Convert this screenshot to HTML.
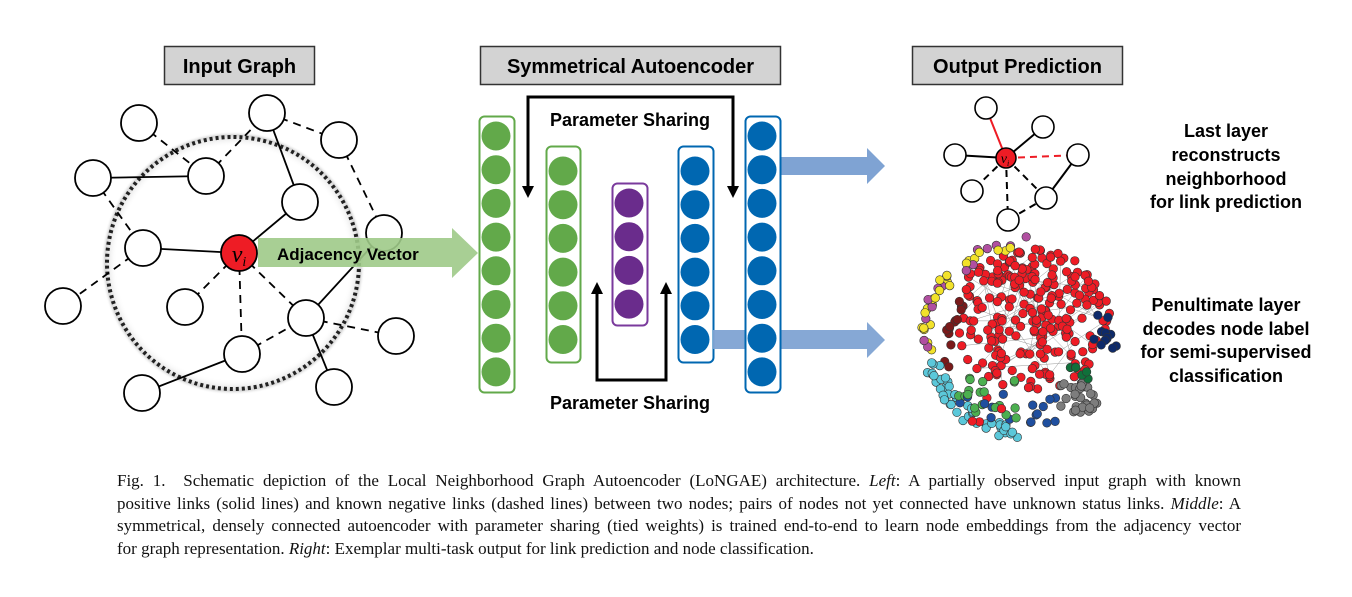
<!DOCTYPE html>
<html><head><meta charset="utf-8"><style>
body{margin:0;background:#fff;width:1352px;height:597px;overflow:hidden;position:relative;font-family:"Liberation Sans",sans-serif}
.cap{position:absolute;left:117px;top:470px;width:1124px;font-family:"Liberation Serif",serif;font-size:17px;line-height:22.7px;color:#111}
.cap div{text-align:justify;text-align-last:justify;white-space:nowrap;overflow:visible}
.cap div.l{text-align-last:left}
</style></head><body>
<svg id="s" width="1352" height="460" style="position:absolute;left:0;top:0" font-family="Liberation Sans, sans-serif">
<defs>
<radialGradient id="sh" cx="50%" cy="50%" r="50%"><stop offset="88%" stop-color="#fff" stop-opacity="0"/><stop offset="97%" stop-color="#bbb" stop-opacity="0.6"/><stop offset="100%" stop-color="#fff" stop-opacity="0"/></radialGradient>
</defs>
<rect x="164.5" y="46.5" width="150" height="38" fill="#d3d3d3" stroke="#333" stroke-width="1.5"/>
<text x="239.5" y="73" font-size="20" font-weight="bold" text-anchor="middle">Input Graph</text>
<rect x="480.5" y="46.5" width="300" height="38" fill="#d3d3d3" stroke="#333" stroke-width="1.5"/>
<text x="630.5" y="73" font-size="20" font-weight="bold" text-anchor="middle">Symmetrical Autoencoder</text>
<rect x="912.5" y="46.5" width="210" height="38" fill="#d3d3d3" stroke="#333" stroke-width="1.5"/>
<text x="1017.5" y="73" font-size="20" font-weight="bold" text-anchor="middle">Output Prediction</text>

<circle cx="233" cy="263" r="132" fill="url(#sh)"/>
<circle cx="233" cy="263" r="126" fill="none" stroke="#222" stroke-width="4" stroke-dasharray="3 3"/>
<g id="edges" stroke="#000" stroke-width="1.8"></g>
<g id="nodes" fill="#fff" stroke="#000" stroke-width="1.8"></g>
<polygon points="258,238 452,238 452,228 478,253 452,278 452,267 258,267" fill="#9fca88" opacity="0.9"/>
<circle cx="239" cy="253" r="18" fill="#ee1c25" stroke="#000" stroke-width="1.8"/>
<text x="239" y="262" font-family="Liberation Serif, serif" font-style="italic" font-size="24" text-anchor="middle">v<tspan font-size="14" dy="4">i</tspan></text>
<text x="277" y="260" font-size="17" font-weight="bold">Adjacency Vector</text>

<g id="ae"></g>
<path d="M528,188 V97 H733 V188" fill="none" stroke="#000" stroke-width="3"/>
<polygon points="522,186 534,186 528,198" fill="#000"/>
<polygon points="727,186 739,186 733,198" fill="#000"/>
<path d="M597,292 V380 H666 V292" fill="none" stroke="#000" stroke-width="3"/>
<polygon points="591,294 603,294 597,282" fill="#000"/>
<polygon points="660,294 672,294 666,282" fill="#000"/>
<text x="630" y="126" font-size="18" font-weight="bold" text-anchor="middle">Parameter Sharing</text>
<text x="630" y="409" font-size="18" font-weight="bold" text-anchor="middle">Parameter Sharing</text>
<polygon points="780,157 867,157 867,148 885,166 867,184 867,175 780,175" fill="#7fa3d3"/>
<polygon points="713,330 867,330 867,322 885,340 867,358 867,349 713,349" fill="#7fa3d3" opacity="0.95"/>
<g id="ae2"></g>

<g stroke-width="2">
<line x1="1006" y1="158" x2="986" y2="108" stroke="#ee1c25"/>
<line x1="1006" y1="158" x2="1043" y2="127" stroke="#000"/>
<line x1="1006" y1="158" x2="955" y2="155" stroke="#000"/>
<line x1="1006" y1="158" x2="1078" y2="155" stroke="#ee1c25" stroke-dasharray="7 5"/>
<line x1="1006" y1="158" x2="972" y2="191" stroke="#000" stroke-dasharray="7 5"/>
<line x1="1006" y1="158" x2="1008" y2="220" stroke="#000" stroke-dasharray="7 5"/>
<line x1="1006" y1="158" x2="1046" y2="198" stroke="#000" stroke-dasharray="7 5"/>
<line x1="1078" y1="155" x2="1046" y2="198" stroke="#000"/>
<line x1="1046" y1="198" x2="1008" y2="220" stroke="#000" stroke-dasharray="7 5"/>
</g>
<g fill="#fff" stroke="#000" stroke-width="1.6">
<circle cx="986" cy="108" r="11"/><circle cx="1043" cy="127" r="11"/><circle cx="955" cy="155" r="11"/><circle cx="1078" cy="155" r="11"/><circle cx="972" cy="191" r="11"/><circle cx="1046" cy="198" r="11"/><circle cx="1008" cy="220" r="11"/>
</g>
<circle cx="1006" cy="158" r="10" fill="#ee1c25" stroke="#000" stroke-width="1.5"/>
<text x="1005" y="163" font-family="Liberation Serif, serif" font-style="italic" font-size="14" text-anchor="middle">v<tspan font-size="8" dy="3">i</tspan></text>

<g font-size="18" font-weight="bold" text-anchor="middle">
<text x="1226" y="137">Last layer</text>
<text x="1226" y="161">reconstructs</text>
<text x="1226" y="185">neighborhood</text>
<text x="1226" y="208">for link prediction</text>
<text x="1226" y="311">Penultimate layer</text>
<text x="1226" y="335">decodes node label</text>
<text x="1226" y="358">for semi-supervised</text>
<text x="1226" y="382">classification</text>
</g>
<g id="net" stroke="#999" stroke-width="0.5"></g>
</svg>
<div class="cap">
<div>Fig. 1.&nbsp; Schematic depiction of the Local Neighborhood Graph Autoencoder (LoNGAE) architecture. <i>Left</i>: A partially observed input graph with known</div>
<div>positive links (solid lines) and known negative links (dashed lines) between two nodes; pairs of nodes not yet connected have unknown status links. <i>Middle</i>: A</div>
<div>symmetrical, densely connected autoencoder with parameter sharing (tied weights) is trained end-to-end to learn node embeddings from the adjacency vector</div>
<div class="l">for graph representation. <i>Right</i>: Exemplar multi-task output for link prediction and node classification.</div>
</div>
<script>
var NS="http://www.w3.org/2000/svg";
function el(p,t,a){var e=document.createElementNS(NS,t);for(var k in a)e.setAttribute(k,a[k]);p.appendChild(e);return e;}
var N={a:[139,123],b:[267,113],c:[339,140],d:[206,176],e:[93,178],f:[300,202],g:[384,233],h:[143,248],v:[239,253],i:[63,306],j:[185,307],k:[306,318],l:[396,336],m:[242,354],n:[142,393],o:[334,387]};
var E=[["a","d",1],["d","e",0],["d","b",1],["b","f",0],["b","c",1],["c","g",1],["f","v",0],["e","h",1],["h","v",0],["h","i",1],["v","j",1],["v","m",1],["v","k",1],["k","g",0],["k","l",1],["k","o",0],["m","k",1],["m","n",0]];
var eg=document.getElementById("edges");
E.forEach(function(x){var a=N[x[0]],b=N[x[1]];var o={x1:a[0],y1:a[1],x2:b[0],y2:b[1]};if(x[2])o["stroke-dasharray"]="8 6";el(eg,"line",o);});
var ng=document.getElementById("nodes");
for(var k in N){if(k!="v")el(ng,"circle",{cx:N[k][0],cy:N[k][1],r:18});}
var ae=document.getElementById("ae"),ae2=document.getElementById("ae2");
function col(g,x1,y1,x2,y2,cx,cy0,n,fill,st){el(g,"rect",{x:x1+.5,y:y1+.5,width:x2-x1,height:y2-y1,rx:5,fill:"#fff",stroke:st,"stroke-width":2});for(var i=0;i<n;i++)el(g,"circle",{cx:cx,cy:cy0+i*33.7,r:14.5,fill:fill});}
col(ae,479,116,514,392,496,136,8,"#62a94a","#62a94a");
col(ae,546,146,580,362,563,171,6,"#62a94a","#62a94a");
col(ae,612,183,647,325,629,203,4,"#6a2c8c","#7a3a9c");
col(ae,678,146,713,362,695,171,6,"#0067b1","#0067b1");
col(ae2,745,116,780,392,762,136,8,"#0067b1","#0067b1");
var seed=7;function R(){seed=(seed*16807)%2147483647;return seed/2147483647;}
var net=document.getElementById("net");var pts=[];
function dot(x,y,c){pts.push([x,y,c]);}
for(var i=0;i<240;i++){var a=R()*6.283,r=Math.sqrt(R());dot(1030+Math.cos(a)*r*80,320+Math.sin(a)*r*72,"#ee1c25");}
for(var i=0;i<40;i++){var t=-1.55-R()*1.65,rr=96+R()*14;dot(1028+Math.cos(t)*rr,345+Math.sin(t)*rr,R()<.5?"#f2e22a":"#b04fa0");}
for(var i=0;i<14;i++){var t=-2.5-R()*0.9,rr=72+R()*10;dot(1025+Math.cos(t)*rr,348+Math.sin(t)*rr,"#7a1a1a");}
for(var i=0;i<45;i++){var t=1.6+R()*1.3,rr=85+R()*15;dot(1022+Math.cos(t)*rr,340+Math.sin(t)*rr,"#5bc8da");}
for(var i=0;i<30;i++){dot(958+R()*60,378+R()*45,R()<.6?"#4caf50":(R()<.5?"#1f4f9f":"#ee1c25"));}
for(var i=0;i<30;i++){dot(1060+R()*40,383+R()*30,"#7d7d7d");}
for(var i=0;i<12;i++){dot(1093+R()*24,315+R()*35,"#0d2a6a");}
for(var i=0;i<6;i++){dot(1070+R()*27,367+R()*12,"#10703a");}
for(var i=0;i<10;i++){dot(1030+R()*30,397+R()*28,"#1f4f9f");}
for(var i=0;i<60;i++){var p=pts[Math.floor(R()*240)],q=pts[Math.floor(R()*240)];el(net,"line",{x1:p[0],y1:p[1],x2:q[0],y2:q[1]});}
pts.forEach(function(p){el(net,"circle",{cx:p[0].toFixed(1),cy:p[1].toFixed(1),r:4.3,fill:p[2],stroke:"#333","stroke-width":0.6});});
</script>
</body></html>
